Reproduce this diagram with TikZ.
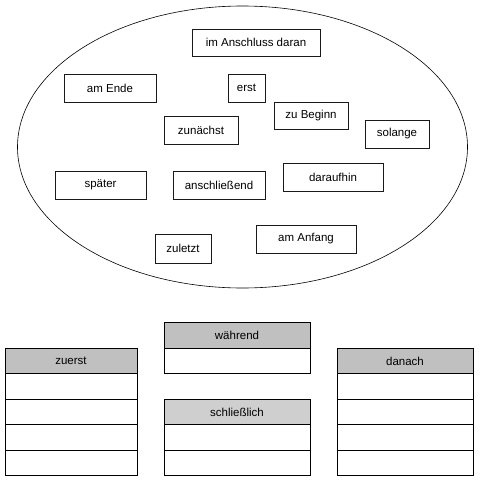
\documentclass[tikz,border=0pt]{standalone}
\usepackage{fontspec}
\setmainfont{Liberation Sans}
\usepackage{xcolor,tikz}
\usetikzlibrary{positioning,shapes.geometric}
\definecolor{ink}{HTML}{000000}
\definecolor{frame}{HTML}{1A1A1A}
\definecolor{heada}{HTML}{C0C0C0}
\definecolor{headb}{HTML}{CFCFCF}
\newcommand{\wordsize}{\fontsize{11.5}{13}\selectfont}

\begin{document}
\begin{tikzpicture}[x=1pt,y=-1pt,font=\wordsize,
  wordbox/.style={draw=frame,line width=0.9pt,inner sep=0,minimum height=28,text=ink},
  headcell/.style={draw=ink,line width=0.8pt,inner sep=0,minimum height=25.5,fill=heada,text=ink},
  cell/.style={draw=ink,line width=0.8pt,inner sep=0,minimum height=25.5,fill=white}]
\useasboundingbox (0,0) rectangle (482,482);
% Wortsammlung
\node[draw=ink,line width=0.6pt,ellipse,inner sep=0,minimum width=450,minimum height=282] (wolke) at (242.5,147) {};
\node[wordbox,minimum width=128,minimum height=27] (anschlussdaran) at (256,42.5) {im Anschluss daran};
\node[wordbox,minimum width=92] (amende) at (110,88) {am Ende};
\node[wordbox,minimum width=37] (erst) at (246.5,88) {erst};
\node[wordbox,minimum width=74,minimum height=27] (zubeginn) at (311,115.5) {zu Beginn};
\node[wordbox,minimum width=64] (solange) at (397,134) {solange};
\node[wordbox,minimum width=74] (zunaechst) at (201,130) {zunächst};
\node[wordbox,minimum width=91] (spaeter) at (100.5,185) {später};
\node[wordbox,minimum width=92] (anschliessend) at (219,185) {anschließend};
\node[wordbox,minimum width=100] (daraufhin) at (333,177) {daraufhin};
\node[wordbox,minimum width=56,minimum height=29] (zuletzt) at (183,248.5) {zuletzt};
\node[wordbox,minimum width=100] (amanfang) at (306,239) {am Anfang};
% Tabelle zuerst
\node[headcell,minimum width=132] (zuerst) at (71,361) {zuerst};
\node[cell,minimum width=132] (zuerstA) at (71,386.5) {};
\node[cell,minimum width=132] (zuerstB) at (71,412) {};
\node[cell,minimum width=132] (zuerstC) at (71,437.5) {};
\node[cell,minimum width=132] (zuerstD) at (71,463) {};
% Tabelle während
\node[headcell,minimum width=146] (waehrend) at (237,335.5) {während};
\node[cell,minimum width=146] (waehrendA) at (237,361) {};
% Tabelle schließlich
\node[headcell,fill=headb,minimum width=146] (schliesslich) at (237,412) {schließlich};
\node[cell,minimum width=146] (schliesslichA) at (237,437.5) {};
\node[cell,minimum width=146] (schliesslichB) at (237,463) {};
% Tabelle danach
\node[headcell,minimum width=136] (danach) at (405,361) {danach};
\node[cell,minimum width=136] (danachA) at (405,386.5) {};
\node[cell,minimum width=136] (danachB) at (405,412) {};
\node[cell,minimum width=136] (danachC) at (405,437.5) {};
\node[cell,minimum width=136] (danachD) at (405,463) {};
\end{tikzpicture}
\end{document}
